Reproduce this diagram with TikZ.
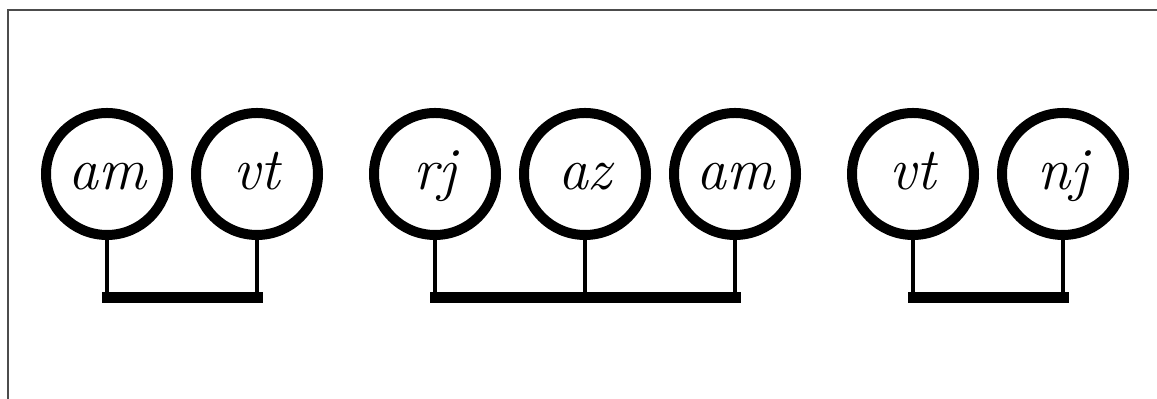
\documentclass[tikz,border=0pt]{standalone}
\usetikzlibrary{positioning}

\begin{document}
\begin{tikzpicture}[ node distance=0.36cm, person/.style={ circle, draw, line width=0.2cm, minimum size=2.44cm, inner sep=0pt, text height=0.84cm, text depth=0.2cm, font=\fontsize{34}{40}\selectfont\itshape }, stem/.style={ line width=0.08cm }, bar/.style={ line width=0.22cm, line cap=rect } ]
\useasboundingbox (0,0) rectangle (23.14,7.98);

% --- Cornice ---
\draw[line width=0.04cm, black!70] (0.16,-1) -- (0.16,7.78) -- (24,7.78);

% --- Persone ---
\node[person] (am1) at (2.14,4.50) {am};
\node[person, right=of am1] (vt1) {vt};

\node[person, right=0.92cm of vt1] (rj) {rj};
\node[person, right=of rj] (az) {az};
\node[person, right=of az] (am2) {am};

\node[person, right=0.92cm of am2] (vt2) {vt};
\node[person, right=of vt2] (nj) {nj};

% --- Gruppi ---
\coordinate (barline) at (0,2.02);

\foreach \n in {am1,vt1,rj,az,am2,vt2,nj} \draw[stem] (\n.south) -- (\n.south |- barline);

\draw[bar] (am1.south |- barline) -- (vt1.south |- barline);
\draw[bar] (rj.south |- barline) -- (am2.south |- barline);
\draw[bar] (vt2.south |- barline) -- (nj.south |- barline);
\end{tikzpicture}
\end{document}
